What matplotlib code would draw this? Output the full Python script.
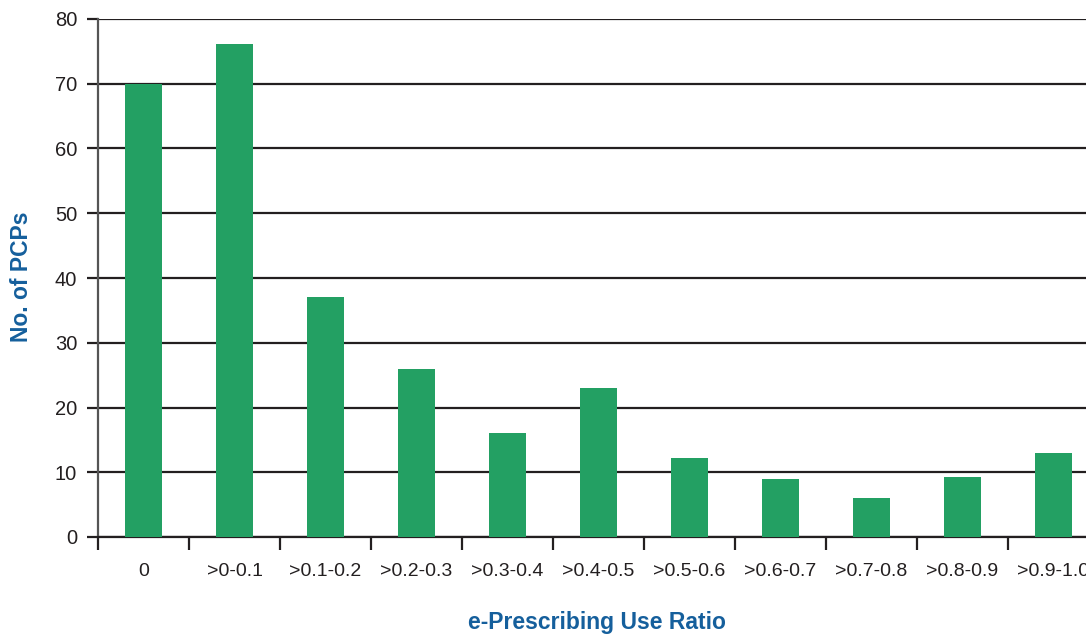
import numpy as np
import matplotlib.pyplot as plt
from matplotlib.ticker import MultipleLocator

# datos
categorias = ['0', '>0-0.1', '>0.1-0.2', '>0.2-0.3', '>0.3-0.4', '>0.4-0.5',
              '>0.5-0.6', '>0.6-0.7', '>0.7-0.8', '>0.8-0.9', '>0.9-1.0']
n_pcps = [70, 76.2, 37, 25.9, 16.1, 23, 12.2, 8.9, 6, 9.2, 13]

VERDE = '#23a063'
AZUL = '#155f9c'
NEGRO = '#231f20'

plt.rcParams['font.family'] = ['Liberation Sans', 'DejaVu Sans']

fig = plt.figure(figsize=(10.86, 6.34), dpi=100)
ax = fig.add_axes([98 / 1086, 1 - 537 / 634, 1 - 98 / 1086, (537 - 19) / 634])

x = np.arange(len(categorias))
ax.bar(x, n_pcps, width=0.4, color=VERDE, zorder=3)

ax.yaxis.set_major_locator(MultipleLocator(10))
ax.grid(axis='y', color=NEGRO, lw=1.6, zorder=1)
ax.set_axisbelow(True)

ax.set_xticks(x)
ax.set_xticklabels(categorias, fontsize=14, color=NEGRO)
ax.set_xticks(np.arange(-0.5, len(categorias), 1), minor=True)
ax.tick_params(axis='x', which='major', length=0, pad=19)
ax.tick_params(axis='x', which='minor', length=9, width=1.6, color=NEGRO)
ax.tick_params(axis='y', length=8, width=1.6, color=NEGRO, labelsize=14.5,
               labelcolor=NEGRO, pad=7)

# limites al final (set_xticks amplia la vista)
ax.set_ylim(0, 80)
ax.set_xlim(-0.5, -0.5 + (1086 - 98) / 91)

for s in ['top', 'right']:
    ax.spines[s].set_visible(False)
ax.spines['left'].set_color('#555555')
ax.spines['left'].set_linewidth(1.6)
ax.spines['bottom'].set_color(NEGRO)
ax.spines['bottom'].set_linewidth(1.6)

fig.text(597 / 1086, 1 - 623 / 634, 'e-Prescribing Use Ratio', ha='center',
         va='center', fontsize=16.5, fontweight='bold', color=AZUL)
fig.text(22 / 1086, 1 - 277 / 634, 'No. of PCPs', ha='center', va='center',
         rotation=90, fontsize=16.5, fontweight='bold', color=AZUL)

fig.savefig('out.png', dpi=100)
